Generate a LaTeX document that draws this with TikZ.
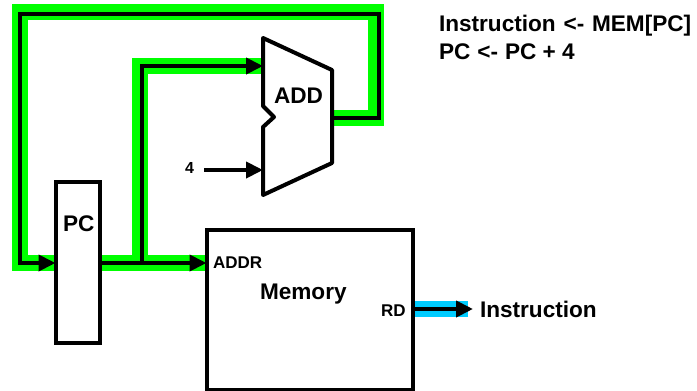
\documentclass[tikz,border=0pt]{standalone}
\usepackage{fontspec}
\setmainfont{Liberation Sans}
\usetikzlibrary{arrows.meta,backgrounds}
\definecolor{routegreen}{RGB}{0,255,0}
\definecolor{routeblue}{RGB}{0,204,255}
\tikzset{
  blockbox/.style={draw=black,line width=4pt,outer sep=0pt,inner sep=0pt,anchor=north west},
  txt/.style={inner sep=0pt,outer sep=0pt,anchor=base west,font=\bfseries\fontsize{#1}{#1}\selectfont,text=black},
  glow/.style={draw=routegreen,line width=16pt,line join=miter,line cap=butt},
  glowblue/.style={draw=routeblue,line width=16pt},
  wire/.style={draw=black,line width=4pt,line join=miter},
  wirearrow/.style={wire,-{Triangle[length=17pt,width=16pt]}}
}
\begin{document}
\begin{tikzpicture}[x=1pt,y=-1pt]
\useasboundingbox (0,0) rectangle (697,391);
% blocks
\node[blockbox,minimum width=44.5pt,minimum height=161pt] (pc) at (55.5,182) {};
\node[blockbox,minimum width=206.5pt,minimum height=160pt] (mem) at (206.5,230) {};
\coordinate (a1) at (263,38);
\coordinate (a2) at (332,70);
\coordinate (a3) at (332,163);
\coordinate (a4) at (263,195);
\coordinate (n1) at (263,127);
\coordinate (n2) at (274,117);
\coordinate (n3) at (263,106);
\coordinate (addA) at (263,66);
\coordinate (addB) at (263,170);
\coordinate (addOut) at (332,118);
\draw[line width=4pt,line join=round] (a1) -- (a2) -- (a3) -- (a4) -- (n1) -- (n2) -- (n3) -- cycle;
% ports
\coordinate (pcIn) at (pc.west |- 0,263);
\coordinate (pcOut) at (pc.east |- 0,263);
\coordinate (memIn) at (mem.west |- 0,263);
\coordinate (memOut) at (mem.east |- 0,309);
\coordinate (four) at (204,170);
\coordinate (instr) at (473,309);
\coordinate (branch) at (142,263);
% highlighted routes
\begin{scope}[on background layer]
  \draw[glow] (pcIn) -- (20,263) -- (20,12) -- (375.5,12) -- (375.5,118) -- (addOut);
  \draw[glow] (pcOut) -- (memIn);
  \draw[glow] (140,263) -- (140,66) -- (addA);
  \draw[glowblue] (memOut) -- (468,309);
\end{scope}
% wires
\draw[wirearrow] (addOut) -- (379,118) -- (379,14) -- (20,14) -- (20,263) -- (pcIn);
\draw[wirearrow] (pcOut) -- (memIn);
\draw[wirearrow] (branch) -- (142,66) -- (addA);
\draw[wirearrow] (four) -- (addB);
\draw[wirearrow] (memOut) -- (instr);
% labels
\node[txt=22.6] (pclabel) at (63,231.5) {PC};
\node[txt=22.6] (addlabel) at (274,103) {ADD};
\node[txt=16] (fourlabel) at (185,173.5) {4};
\node[txt=17] (addrlabel) at (213,268) {ADDR};
\node[txt=22.6] (memlabel) at (260,299) {Memory};
\node[txt=17] (rdlabel) at (381,316) {RD};
\node[txt=22.6] (instrlabel) at (480,317) {Instruction};
\node[txt=22.6] (eq1) at (439,31) {Instruction\hspace{1.5pt} <-\hspace{1.5pt} MEM[PC]};
\node[txt=22.6] (eq2) at (439,59) {PC\hspace{.7pt} <-\hspace{.7pt} PC + 4};
\end{tikzpicture}
\end{document}
